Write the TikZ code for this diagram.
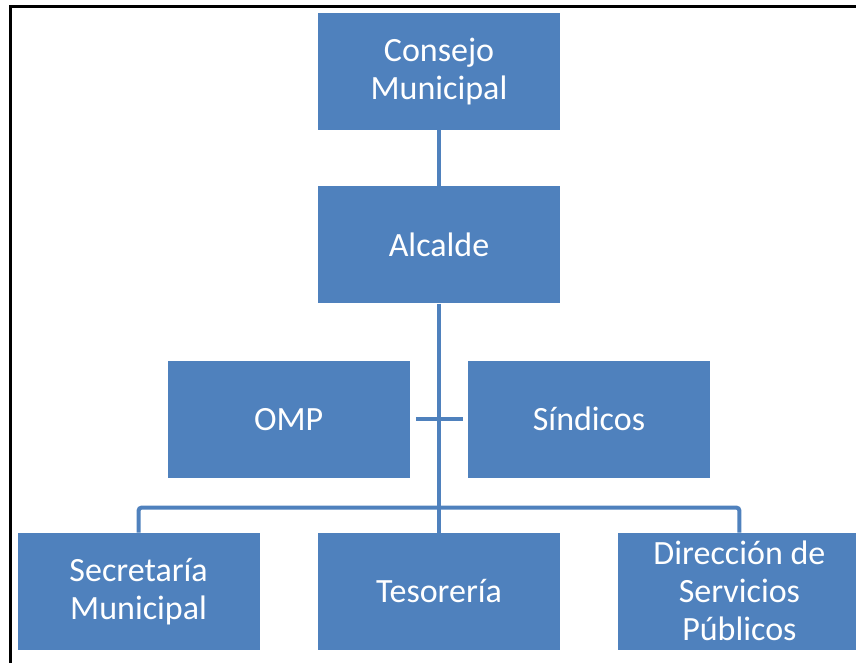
\documentclass[tikz,border=0pt]{standalone}
\usepackage{fontspec}
\setmainfont{Carlito}
\usepackage{tikz}
\usetikzlibrary{positioning}
\definecolor{azul}{HTML}{4F81BD}

\begin{document}
\begin{tikzpicture}[
  x=1pt, y=-1pt,
  node distance=58pt,
  cargo/.style={rectangle, fill=azul, text=white, align=center,
    minimum width=242pt, minimum height=117pt, inner sep=0pt,
    font=\fontsize{34}{38}\selectfont},
  linea/.style={draw=azul, line width=4pt}
]
\useasboundingbox (0,0) rectangle (856,663);

% Frame
\draw[line width=3pt] (10,663) -- (10,7) -- (856,7);

% Top
\node[cargo] (consejo) at (439,71.5) {Consejo\\Municipal};
\node[cargo, below=56pt of consejo] (alcalde) {Alcalde};

% Staff
\node[cargo, below left=57pt and -92pt of alcalde] (omp) {OMP};
\node[cargo, right=of omp] (sindicos) {Síndicos};

% Bottom
\node[cargo, below=229pt of alcalde] (tesoreria) {Tesorería};
\node[cargo, left=of tesoreria] (secretaria) {Secretaría\\Municipal};
\node[cargo, right=of tesoreria] (direccion) {Dirección de\\Servicios\\Públicos};

\draw[linea] (consejo) -- (alcalde);
\draw[linea] (alcalde) -- (tesoreria);
\draw[linea] ([xshift=6pt]omp.east) -- ([xshift=-5pt]sindicos.west);
\draw[linea, rounded corners=3pt] (secretaria.north) |- ([yshift=25pt]tesoreria.north) -| (direccion.north);

\end{tikzpicture}
\end{document}
